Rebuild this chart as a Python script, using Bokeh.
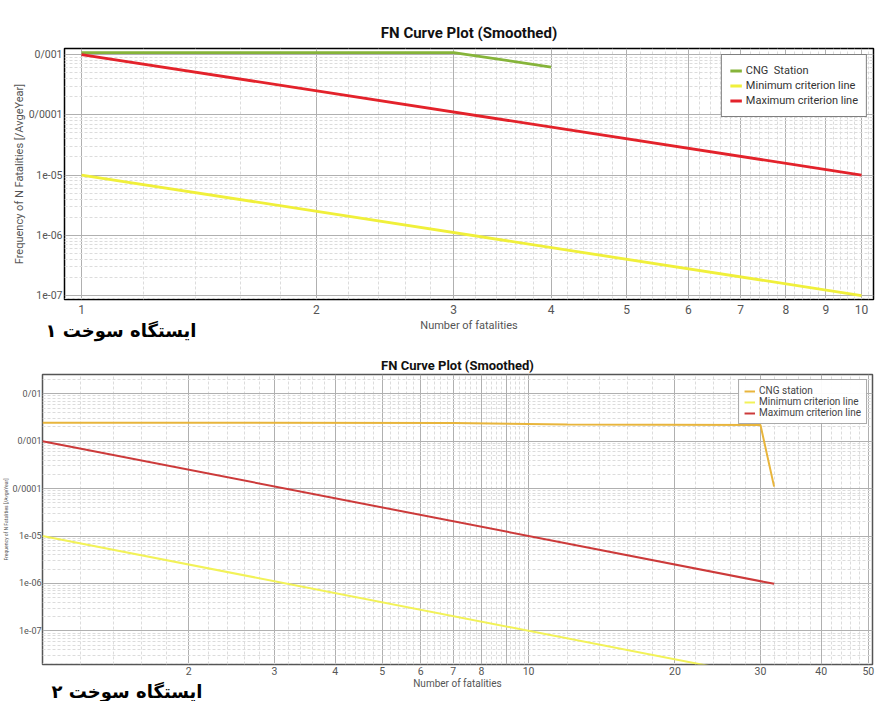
from bokeh.plotting import figure
from bokeh.models import FixedTicker, CustomJSTickFormatter, Range1d, Title
from bokeh.embed import file_html
from bokeh.resources import INLINE
import numpy as np

# ---------------- data ----------------
title_text = "FN Curve Plot (Smoothed)"
x_label = "Number of fatalities"
y_label = "Frequency of N Fatalities [/AvgeYear]"

# panel 1
p1_name = "ایستگاه سوخت ۱"
n1_cng = [1, 3, 4]
f1_cng = [1.08e-3, 1.08e-3, 6.2e-4]
n1_crit = [1, 10]
f1_max = [1e-3, 1e-5]
f1_min = [1e-5, 1e-7]
p1_series = ["CNG  Station", "Minimum criterion line", "Maximum criterion line"]
p1_xticks = [1, 2, 3, 4, 5, 6, 7, 8, 9, 10]
p1_xlabels = ["1", "2", "3", "4", "5", "6", "7", "8", "9", "10"]
p1_yticks = [1e-3, 1e-4, 1e-5, 1e-6, 1e-7]
p1_ylabels = ["0/001", "0/0001", "1e-05", "1e-06", "1e-07"]

# panel 2
p2_name = "ایستگاه سوخت ۲"
n2_cng = [1, 7, 12, 30, 32]
f2_cng = [2.45e-3, 2.42e-3, 2.25e-3, 2.2e-3, 1.1e-4]
n2_crit = [1, 32]
f2_max = [1e-3, 9.8e-7]
f2_min = [1e-5, 9.8e-9]
p2_series = ["CNG station", "Minimum criterion line", "Maximum criterion line"]
p2_xticks = [2, 3, 4, 5, 6, 7, 8, 9, 10, 20, 30, 40, 50]
p2_xlabels = ["2", "3", "4", "5", "6", "7", "8", "", "10", "20", "30", "40", "50"]
p2_yticks = [1e-2, 1e-3, 1e-4, 1e-5, 1e-6, 1e-7]
p2_ylabels = ["0/01", "0/001", "0/0001", "1e-05", "1e-06", "1e-07"]

FONT = "Roboto"
FONT_B = "Roboto"
FA_FONT = "DejaVu Sans"
FMT_CODE = """
for (let i = 0; i < tv.length; i++) {
  if (Math.abs(tv[i] - tick) <= 1e-6 * Math.abs(tick)) return tl[i];
}
return '';
"""


def fmt(ticks, labels):
    return CustomJSTickFormatter(args=dict(tv=ticks, tl=labels), code=FMT_CODE)


def decade_minors(lo_exp, hi_exp):
    out = []
    for e in range(lo_exp, hi_exp + 1):
        for m in range(2, 10):
            out.append(m * 10.0 ** e)
    return out


def style_common(p, outline_color, outline_w):
    p.outline_line_color = outline_color
    p.outline_line_width = outline_w
    p.background_fill_color = "white"
    p.border_fill_color = "white"
    for ax in (p.xaxis[0], p.yaxis[0]):
        ax.axis_line_color = None
        ax.major_tick_line_color = None
        ax.minor_tick_line_color = None
        ax.major_tick_out = 0
        ax.minor_tick_out = 0
        ax.major_tick_in = 0
        ax.minor_tick_in = 0
        ax.major_label_text_font = FONT
        ax.major_label_text_color = "#555555"
        ax.axis_label_text_font = FONT
        ax.axis_label_text_font_style = "normal"
        ax.axis_label_text_color = "#555555"
    for g in (p.xgrid[0], p.ygrid[0]):
        g.grid_line_color = "#b0b0b0"
        g.grid_line_width = 1
        g.minor_grid_line_color = "#dcdcdc"
        g.minor_grid_line_dash = "3 2"
        g.minor_grid_line_width = 1


# ---------------- panel 1 ----------------
p1 = figure(width=875, height=352, x_axis_type="log", y_axis_type="log",
            x_range=Range1d(0.951, 10.36), y_range=Range1d(0.86e-7, 1.26e-3),
            output_backend="svg", toolbar_location=None,
            min_border_left=64, min_border_right=2, min_border_top=48, min_border_bottom=53)
p1.title.text = title_text
p1.title.align = "center"
p1.title.text_font = FONT_B
p1.title.text_font_size = "15px"
p1.title.text_font_style = "bold"
p1.title.text_color = "#111111"
p1.title.standoff = 14

style_common(p1, "black", 1.5)
p1.xaxis[0].ticker = FixedTicker(ticks=p1_xticks,
                                 minor_ticks=[round(v, 1) for v in np.arange(1.0, 10.4, 0.2) if abs(v - round(v)) > 1e-6])
p1.xaxis[0].formatter = fmt(p1_xticks, p1_xlabels)
p1.yaxis[0].ticker = FixedTicker(ticks=p1_yticks, minor_ticks=decade_minors(-8, -3))
p1.yaxis[0].formatter = fmt(p1_yticks, p1_ylabels)
p1.xaxis[0].axis_label = x_label
p1.yaxis[0].axis_label = y_label
p1.xaxis[0].major_label_text_font_size = "12px"
p1.yaxis[0].major_label_text_font_size = "10.5px"
p1.xaxis[0].axis_label_text_font_size = "11px"
p1.yaxis[0].axis_label_text_font_size = "11px"
p1.xaxis[0].major_label_standoff = 5
p1.xaxis[0].axis_label_standoff = 2
p1.yaxis[0].major_label_standoff = 2
p1.yaxis[0].axis_label_standoff = 0

p1.line(n1_cng, f1_cng, line_color="#86b43a", line_width=2.8, legend_label=p1_series[0])
p1.line(n1_crit, f1_min, line_color="#f0f03a", line_width=2.8, legend_label=p1_series[1])
p1.line(n1_crit, f1_max, line_color="#e3222b", line_width=2.8, legend_label=p1_series[2])

lg1 = p1.legend[0]
lg1.location = "top_right"
lg1.margin = 6
lg1.border_line_color = "black"
lg1.border_line_width = 1.5
lg1.background_fill_alpha = 1
lg1.label_text_font = FONT
lg1.label_text_font_size = "11px"
lg1.label_text_color = "#333333"
lg1.glyph_width = 12
lg1.glyph_height = 15
lg1.label_height = 15
lg1.spacing = 0
lg1.padding = 8
lg1.label_standoff = 4

p1.add_layout(Title(text=p1_name, align="left", offset=-19, vertical_align="top",
                    standoff=-30, text_font=FA_FONT, text_font_style="bold",
                    text_font_size="18px", text_color="black"), "below")

# ---------------- panel 2 ----------------
p2 = figure(width=875, height=349, x_axis_type="log", y_axis_type="log",
            x_range=Range1d(1.0, 51.0), y_range=Range1d(1.95e-8, 2.55e-2),
            output_backend="svg", toolbar_location=None,
            min_border_left=38, min_border_right=3, min_border_top=22, min_border_bottom=37)
p2.title.text = title_text
p2.title.align = "center"
p2.title.text_font = FONT_B
p2.title.text_font_size = "13px"
p2.title.text_font_style = "bold"
p2.title.text_color = "#111111"
p2.title.standoff = 3

style_common(p2, "#555555", 1.5)
minor2 = [round(v, 1) for v in np.arange(1.2, 10.0, 0.2) if abs(v - round(v)) > 1e-6] + \
         [v for v in range(12, 52, 2) if v % 10 != 0]
p2.xaxis[0].ticker = FixedTicker(ticks=[1] + p2_xticks, minor_ticks=minor2)
p2.xaxis[0].formatter = fmt(p2_xticks, p2_xlabels)
p2.yaxis[0].ticker = FixedTicker(ticks=p2_yticks, minor_ticks=decade_minors(-9, -2))
p2.yaxis[0].formatter = fmt(p2_yticks, p2_ylabels)
p2.xaxis[0].axis_label = x_label
p2.yaxis[0].axis_label = y_label
p2.xaxis[0].major_label_text_font_size = "10.5px"
p2.yaxis[0].major_label_text_font_size = "9px"
p2.xaxis[0].axis_label_text_font_size = "10px"
p2.yaxis[0].axis_label_text_font_size = "5px"
p2.xaxis[0].major_label_standoff = 2
p2.xaxis[0].axis_label_standoff = 0
p2.yaxis[0].major_label_standoff = 1
p2.yaxis[0].axis_label_standoff = 0

p2.line(n2_cng, f2_cng, line_color="#e8b53c", line_width=2, legend_label=p2_series[0])
p2.line(n2_crit, f2_min, line_color="#f2f258", line_width=2, legend_label=p2_series[1])
p2.line(n2_crit, f2_max, line_color="#cc3a3a", line_width=2, legend_label=p2_series[2])

lg2 = p2.legend[0]
lg2.location = "top_right"
lg2.margin = 5
lg2.border_line_color = "#555555"
lg2.border_line_width = 1.2
lg2.label_text_font = FONT
lg2.label_text_font_size = "10px"
lg2.label_text_color = "#444444"
lg2.glyph_width = 11
lg2.glyph_height = 10
lg2.label_height = 10
lg2.spacing = 0
lg2.padding = 5
lg2.label_standoff = 4

p2.add_layout(Title(text=p2_name, align="left", offset=9, vertical_align="top",
                    standoff=-22, text_font=FA_FONT, text_font_style="bold",
                    text_font_size="18px", text_color="black"), "below")

open("out.html", "w").write(file_html([p1, p2], INLINE))
